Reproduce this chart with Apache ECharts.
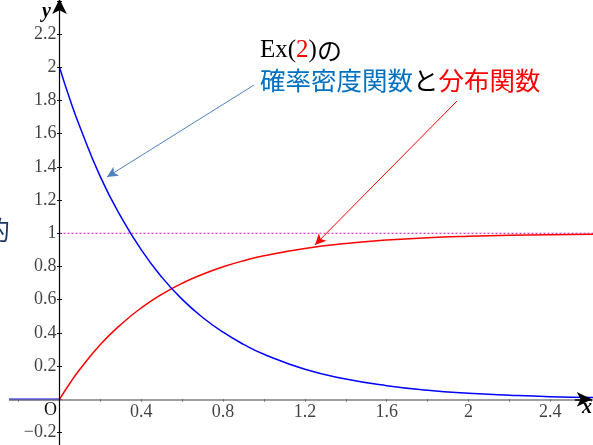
<!DOCTYPE html>
<html>
<head>
<meta charset="utf-8">
<script src="https://cdn.jsdelivr.net/npm/echarts@6/dist/echarts.min.js"></script>
<style>
  html, body { margin: 0; padding: 0; background: #fff; }
  #chart { width: 593px; height: 445px; }
</style>
</head>
<body>
<div id="chart"></div>
<script>
// ── Data ──────────────────────────────────────────────────
const xs  = [0, 0.05, 0.1, 0.2, 0.3, 0.4, 0.5, 0.6, 0.7, 0.8, 0.9, 1.0, 1.2, 1.4, 1.6, 1.8, 2.0, 2.2, 2.4, 2.61];
const pdf = [2, 1.81, 1.64, 1.34, 1.10, 0.90, 0.736, 0.602, 0.493, 0.404, 0.331, 0.271, 0.181, 0.122, 0.082, 0.055, 0.037, 0.025, 0.016, 0.011];
const cdf = [0, 0.095, 0.181, 0.33, 0.451, 0.551, 0.632, 0.699, 0.753, 0.798, 0.835, 0.865, 0.909, 0.939, 0.959, 0.973, 0.982, 0.988, 0.992, 0.995];
const pdfLeft  = [[-0.247, 0], [0, 0]];     // density is 0 for x < 0
const oneLevel = 1;                         // dotted asymptote of the CDF

// tick labels
const xTicks = [0.4, 0.8, 1.2, 1.6, 2, 2.4];
const yTicks = [-0.2, 0.2, 0.4, 0.6, 0.8, 1, 1.2, 1.4, 1.6, 1.8, 2, 2.2];

// annotation arrows, [from, to] in data units
const pdfArrow = [[0.951, 1.893], [0.232, 1.339]];
const cdfArrow = [[1.944, 1.797], [1.249, 0.930]];

// ── Config ────────────────────────────────────────────────
const SERIF = "'Liberation Serif', 'DejaVu Serif', serif";
const CJK   = "'Noto Sans CJK JP', 'Noto Sans', sans-serif";
const X_MIN = -0.4, X_MAX = 2.8;
const Y_MIN = -0.4, Y_MAX = 2.6;

const chart = echarts.init(document.getElementById('chart'));

const baseX = {
  type: 'value', min: X_MIN, max: X_MAX, interval: 0.2,
  splitLine: { show: false },
  axisLabel: { show: false },
  axisLine: { onZero: true, lineStyle: { color: 'rgba(0,0,0,0)' } },
};
const baseY = {
  type: 'value', min: Y_MIN, max: Y_MAX, interval: 0.2,
  splitLine: { show: false },
  axisLabel: { show: false },
  axisLine: { onZero: true, lineStyle: { color: 'rgba(0,0,0,0)' } },
};

const hidden = { show: false };
const tickFont = { color: '#111', fontFamily: SERIF, fontSize: 18 };

chart.setOption({
  animation: false,
  backgroundColor: '#fff',
  grid: {
    left: -22.3, top: -32.3, width: 654.4, height: 498,
    containLabel: false, outerBoundsMode: 'none',
  },
  xAxis: [
    Object.assign({}, baseX, { axisTick: { length: 2, lineStyle: { color: '#333' } } }),
    Object.assign({}, baseX, { axisTick: { inside: true, length: 2, lineStyle: { color: '#333' } } }),
  ],
  yAxis: [
    Object.assign({}, baseY, { axisTick: { length: 2.5, lineStyle: { color: '#111' } } }),
    Object.assign({}, baseY, {
      position: 'left',
      axisTick: { inside: true, length: 2.5, lineStyle: { color: '#111' } },
    }),
  ],
  series: [
    {
      // axes and annotation arrows
      type: 'line', data: [], silent: true,
      markLine: {
        silent: true, animation: false,
        label: hidden, emphasis: { disabled: true },
        data: [
          [{ coord: [-0.247, 0], symbol: 'none', lineStyle: { color: '#7f7f7f', width: 1.5, type: 'solid' } },
           { coord: [2.609, 0], symbol: 'none' }],
          [{ coord: [2.52, 0], symbol: 'none', lineStyle: { color: '#000', width: 1.5, type: 'solid' } },
           { coord: [2.603, 0], symbol: 'arrow', symbolSize: [11, 15] }],
          [{ coord: [0, -0.3], symbol: 'none', lineStyle: { color: '#000', width: 1.2, type: 'solid' } },
           { coord: [0, 2.412], symbol: 'arrow', symbolSize: [11, 15] }],
          [{ coord: pdfArrow[0], symbol: 'none', lineStyle: { color: '#4f81bd', width: 1, type: 'solid' } },
           { coord: pdfArrow[1], symbol: 'arrow', symbolSize: [8, 11] }],
          [{ coord: cdfArrow[0], symbol: 'none', lineStyle: { color: '#ff0000', width: 1, type: 'solid' } },
           { coord: cdfArrow[1], symbol: 'arrow', symbolSize: [8, 11] }],
        ],
      },
    },
    {
      name: 'one', type: 'line', showSymbol: false, silent: true,
      lineStyle: { color: '#cc33cc', width: 1.2, type: [2, 2] },
      data: [[0, oneLevel], [2.62, oneLevel]],
    },
    {
      name: 'CDF', type: 'line', smooth: true,
      showSymbol: false, silent: true,
      lineStyle: { color: '#ff0000', width: 1.5 },
      data: xs.map((x, i) => [x, cdf[i]]),
    },
    {
      name: 'PDF<0', type: 'line', showSymbol: false, silent: true,
      lineStyle: { color: '#0000ff', width: 1.8 },
      data: pdfLeft,
    },
    {
      name: 'PDF', type: 'line', smooth: true,
      showSymbol: false, silent: true,
      lineStyle: { color: '#0000ff', width: 1.5 },
      data: xs.map((x, i) => [x, pdf[i]]),
    },
    {
      name: 'xTickLabels', type: 'scatter', symbolSize: 0, silent: true,
      data: xTicks.map(v => [v, 0]),
      label: Object.assign({ show: true, position: 'bottom', distance: 4,
        formatter: p => String(p.value[0]) }, tickFont),
    },
    {
      name: 'yTickLabels', type: 'scatter', symbolSize: 0, silent: true,
      data: yTicks.map(v => [0, v]),
      label: Object.assign({ show: true, position: 'left', distance: 3,
        formatter: p => String(p.value[1]).replace('-', '\u2212') }, tickFont),
    },
  ],
  graphic: [
    { type: 'text', left: 42, top: 2, silent: true,
      style: { text: 'y', fill: '#000', font: "italic bold 20px " + SERIF } },
    { type: 'text', left: 582, top: 398, silent: true,
      style: { text: 'x', fill: '#000', font: "italic bold 20px " + SERIF } },
    { type: 'text', left: 44, top: 401, silent: true,
      style: { text: 'O', fill: '#111', font: "18px " + SERIF } },
    { type: 'text', left: -16, top: 217, silent: true,
      style: { text: '的', fill: '#203864', font: "26px " + CJK } },
    { type: 'text', left: 260, top: 38, silent: true,
      style: {
        text: '{a|Ex(}{r|2}{a|)}{b|の}',
        rich: {
          a: { fontFamily: SERIF, fontSize: 25, fill: '#000' },
          r: { fontFamily: SERIF, fontSize: 25, fill: '#ff0000' },
          b: { fontFamily: CJK, fontSize: 25, fill: '#000' },
        },
      } },
    { type: 'text', left: 260, top: 68, silent: true,
      style: {
        text: '{b|確率密度関数}{k|と}{r|分布関数}',
        rich: {
          b: { fontFamily: CJK, fontSize: 25.5, fill: '#0070c0' },
          k: { fontFamily: CJK, fontSize: 25.5, fill: '#000' },
          r: { fontFamily: CJK, fontSize: 25.5, fill: '#ff0000' },
        },
      } },
  ],
});
</script>
</body>
</html>
